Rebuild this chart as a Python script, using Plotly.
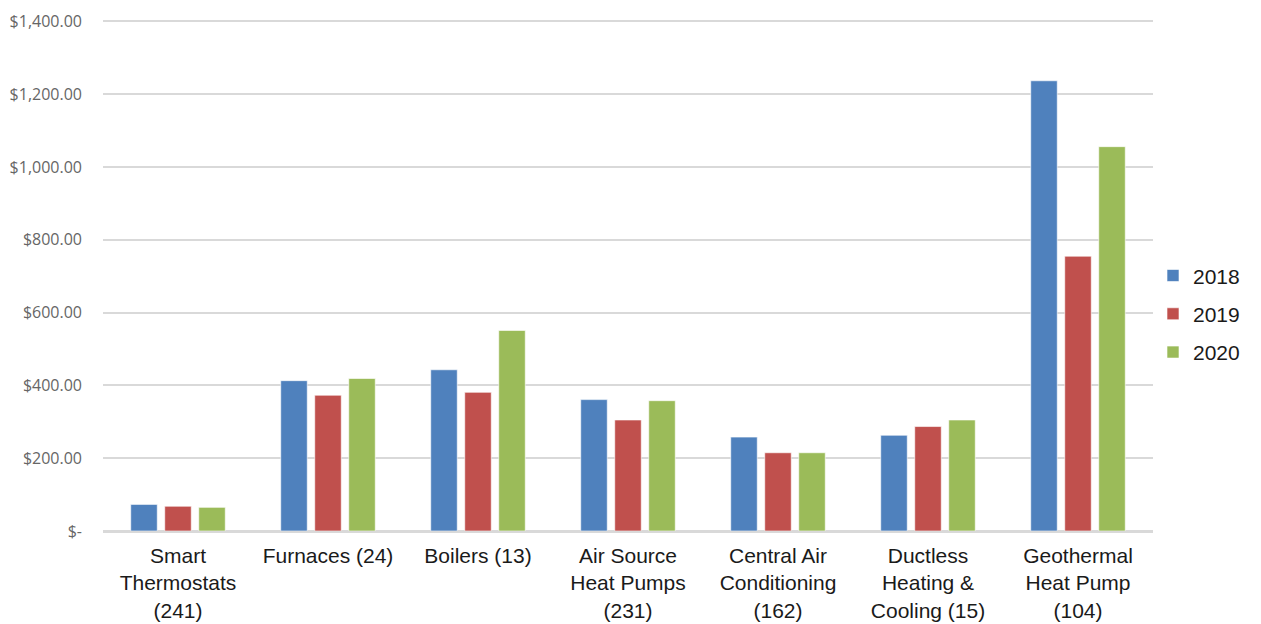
import plotly.graph_objects as go

categories = [
    "Smart<br>Thermostats<br>(241)",
    "Furnaces (24)",
    "Boilers (13)",
    "Air Source<br>Heat Pumps<br>(231)",
    "Central Air<br>Conditioning<br>(162)",
    "Ductless<br>Heating &<br>Cooling (15)",
    "Geothermal<br>Heat Pump<br>(104)",
]
series_names = ["2018", "2019", "2020"]
values_2018 = [73, 413, 443, 361, 258, 263, 1237]
values_2019 = [68, 373, 381, 305, 215, 287, 755]
values_2020 = [65, 419, 551, 358, 215, 305, 1056]
colors = ["#4F81BD", "#C0504D", "#9BBB59"]

y_tickvals = [0, 200, 400, 600, 800, 1000, 1200, 1400]
y_ticktext = ["$-", "$200.00", "$400.00", "$600.00", "$800.00",
              "$1,000.00", "$1,200.00", "$1,400.00"]

fig = go.Figure()
for name, vals, col in zip(series_names, [values_2018, values_2019, values_2020], colors):
    fig.add_trace(go.Bar(
        x=categories, y=vals, name=name, legendgroup=name,
        marker=dict(color=col, line=dict(color="rgba(255,255,255,0.6)", width=1)),
    ))

# page body has an 8px margin, so the figure is sized/offset to compensate
fig.update_layout(
    width=1253, height=616,
    margin=dict(l=95, r=108, t=12, b=93),
    paper_bgcolor="white", plot_bgcolor="white",
    barmode="group", bargap=0.32, bargroupgap=0.22,
    font=dict(family="Liberation Sans, Arial, sans-serif", color="#1a1a1a"),
    legend=dict(
        x=1.0, xanchor="left", y=0.425, yanchor="middle",
        font=dict(size=21, color="#1a1a1a", family="Liberation Sans, Arial"),
        itemwidth=30, tracegroupgap=8,
    ),
    showlegend=True,
)
fig.update_xaxes(
    tickfont=dict(size=21, color="#1a1a1a", family="Liberation Sans, Arial"),
    showline=True, linecolor="#d9d9d9", linewidth=1.5,
    ticks="", ticklabelstandoff=5, automargin=False,
)
fig.update_yaxes(
    range=[0, 1404], tickvals=y_tickvals, ticktext=y_ticktext,
    tickfont=dict(size=16, color="#666666", family="Open Sans, sans-serif"),
    showgrid=True, gridcolor="#d9d9d9", gridwidth=1.5,
    zeroline=True, zerolinecolor="#d9d9d9", zerolinewidth=1.5,
    ticks="", ticklabelstandoff=20, automargin=False,
    ticklabeloverflow="allow",
)

fig.write_html("out.html")
